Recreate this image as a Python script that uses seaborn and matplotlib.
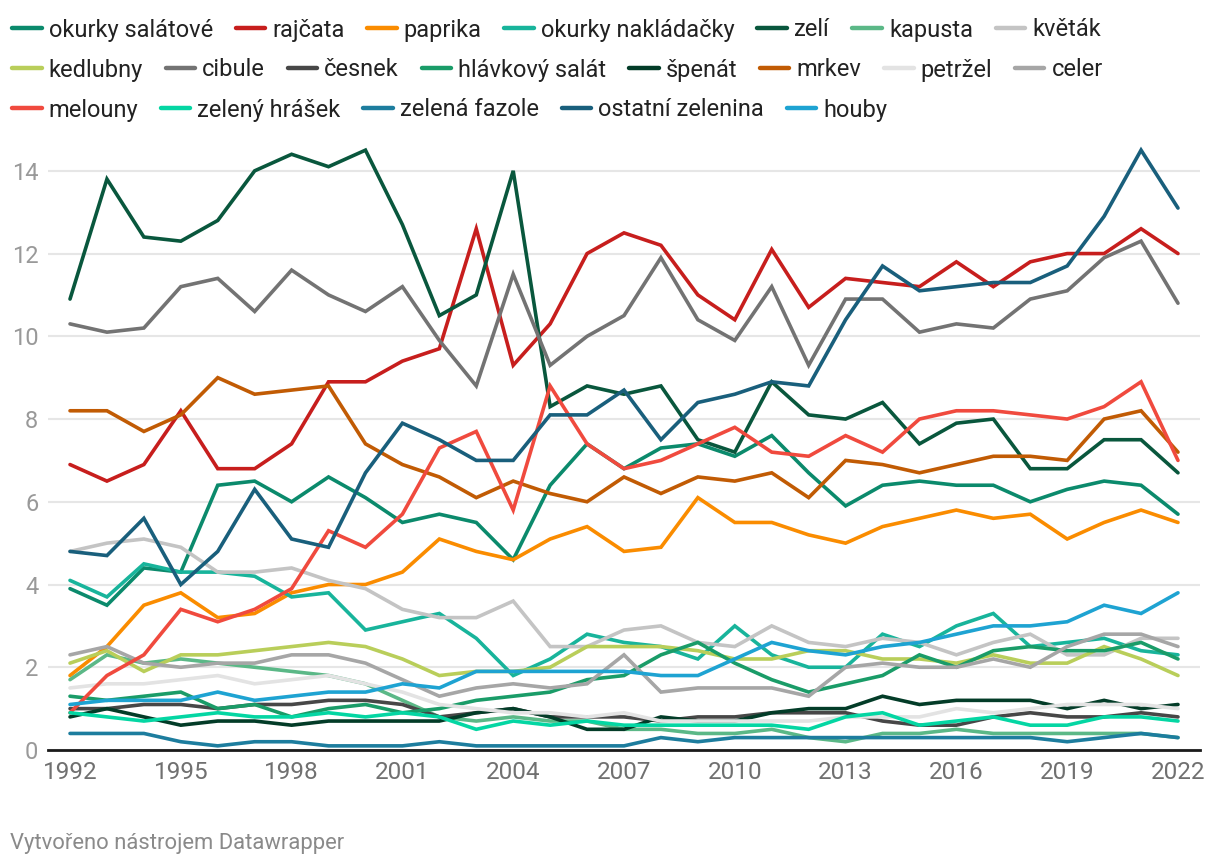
import pandas as pd
import matplotlib.pyplot as plt
from matplotlib.lines import Line2D
import seaborn as sns

# roky 1992-2022
years = list(range(1992, 2023))

okurky_salatove = [3.9, 3.5, 4.4, 4.3, 6.4, 6.5, 6.0, 6.6, 6.1, 5.5, 5.7, 5.5, 4.6, 6.4, 7.4, 6.8,
                   7.3, 7.4, 7.1, 7.6, 6.7, 5.9, 6.4, 6.5, 6.4, 6.4, 6.0, 6.3, 6.5, 6.4, 5.7]
rajcata = [6.9, 6.5, 6.9, 8.2, 6.8, 6.8, 7.4, 8.9, 8.9, 9.4, 9.7, 12.6, 9.3, 10.3, 12.0, 12.5,
           12.2, 11.0, 10.4, 12.1, 10.7, 11.4, 11.3, 11.2, 11.8, 11.2, 11.8, 12.0, 12.0, 12.6, 12.0]
paprika = [1.8, 2.5, 3.5, 3.8, 3.2, 3.3, 3.8, 4.0, 4.0, 4.3, 5.1, 4.8, 4.6, 5.1, 5.4, 4.8,
           4.9, 6.1, 5.5, 5.5, 5.2, 5.0, 5.4, 5.6, 5.8, 5.6, 5.7, 5.1, 5.5, 5.8, 5.5]
okurky_nakladacky = [4.1, 3.7, 4.5, 4.3, 4.3, 4.2, 3.7, 3.8, 2.9, 3.1, 3.3, 2.7, 1.8, 2.2, 2.8, 2.6,
                     2.5, 2.2, 3.0, 2.3, 2.0, 2.0, 2.8, 2.5, 3.0, 3.3, 2.5, 2.6, 2.7, 2.4, 2.3]
zeli = [10.9, 13.8, 12.4, 12.3, 12.8, 14.0, 14.4, 14.1, 14.5, 12.7, 10.5, 11.0, 14.0, 8.3, 8.8, 8.6,
        8.8, 7.5, 7.2, 8.9, 8.1, 8.0, 8.4, 7.4, 7.9, 8.0, 6.8, 6.8, 7.5, 7.5, 6.7]
kapusta = [1.7, 2.3, 2.1, 2.2, 2.1, 2.0, 1.9, 1.8, 1.6, 1.2, 0.8, 0.7, 0.8, 0.7, 0.7, 0.5,
           0.5, 0.4, 0.4, 0.5, 0.3, 0.2, 0.4, 0.4, 0.5, 0.4, 0.4, 0.4, 0.4, 0.4, 0.3]
kvetak = [4.8, 5.0, 5.1, 4.9, 4.3, 4.3, 4.4, 4.1, 3.9, 3.4, 3.2, 3.2, 3.6, 2.5, 2.5, 2.9,
          3.0, 2.6, 2.5, 3.0, 2.6, 2.5, 2.7, 2.6, 2.3, 2.6, 2.8, 2.3, 2.3, 2.7, 2.7]
kedlubny = [2.1, 2.4, 1.9, 2.3, 2.3, 2.4, 2.5, 2.6, 2.5, 2.2, 1.8, 1.9, 1.9, 2.0, 2.5, 2.5,
            2.5, 2.4, 2.2, 2.2, 2.4, 2.4, 2.2, 2.2, 2.1, 2.3, 2.1, 2.1, 2.5, 2.2, 1.8]
cibule = [10.3, 10.1, 10.2, 11.2, 11.4, 10.6, 11.6, 11.0, 10.6, 11.2, 9.9, 8.8, 11.5, 9.3, 10.0, 10.5,
          11.9, 10.4, 9.9, 11.2, 9.3, 10.9, 10.9, 10.1, 10.3, 10.2, 10.9, 11.1, 11.9, 12.3, 10.8]
cesnek = [1.0, 1.0, 1.1, 1.1, 1.0, 1.1, 1.1, 1.2, 1.2, 1.1, 0.8, 0.9, 1.0, 0.8, 0.8, 0.8,
          0.7, 0.8, 0.8, 0.9, 0.9, 0.9, 0.7, 0.6, 0.6, 0.8, 0.9, 0.8, 0.8, 0.9, 0.8]
hlavkovy_salat = [1.3, 1.2, 1.3, 1.4, 1.0, 1.1, 0.8, 1.0, 1.1, 0.9, 1.0, 1.2, 1.3, 1.4, 1.7, 1.8,
                  2.3, 2.6, 2.1, 1.7, 1.4, 1.6, 1.8, 2.3, 2.0, 2.4, 2.5, 2.4, 2.4, 2.6, 2.2]
spenat = [0.8, 1.0, 0.8, 0.6, 0.7, 0.7, 0.6, 0.7, 0.7, 0.7, 0.7, 0.9, 1.0, 0.8, 0.5, 0.5,
          0.8, 0.7, 0.7, 0.9, 1.0, 1.0, 1.3, 1.1, 1.2, 1.2, 1.2, 1.0, 1.2, 1.0, 1.1]
mrkev = [8.2, 8.2, 7.7, 8.1, 9.0, 8.6, 8.7, 8.8, 7.4, 6.9, 6.6, 6.1, 6.5, 6.2, 6.0, 6.6,
         6.2, 6.6, 6.5, 6.7, 6.1, 7.0, 6.9, 6.7, 6.9, 7.1, 7.1, 7.0, 8.0, 8.2, 7.2]
petrzel = [1.5, 1.6, 1.6, 1.7, 1.8, 1.6, 1.7, 1.8, 1.6, 1.4, 1.1, 1.0, 0.9, 0.9, 0.8, 0.9,
           0.7, 0.7, 0.7, 0.7, 0.7, 0.8, 0.8, 0.8, 1.0, 0.9, 1.0, 1.1, 1.1, 1.1, 1.0]
celer = [2.3, 2.5, 2.1, 2.0, 2.1, 2.1, 2.3, 2.3, 2.1, 1.7, 1.3, 1.5, 1.6, 1.5, 1.6, 2.3,
         1.4, 1.5, 1.5, 1.5, 1.3, 2.0, 2.1, 2.0, 2.0, 2.2, 2.0, 2.5, 2.8, 2.8, 2.5]
melouny = [0.9, 1.8, 2.3, 3.4, 3.1, 3.4, 3.9, 5.3, 4.9, 5.7, 7.3, 7.7, 5.8, 8.8, 7.4, 6.8,
           7.0, 7.4, 7.8, 7.2, 7.1, 7.6, 7.2, 8.0, 8.2, 8.2, 8.1, 8.0, 8.3, 8.9, 7.0]
zeleny_hrasek = [0.9, 0.8, 0.7, 0.8, 0.9, 0.8, 0.8, 0.9, 0.8, 0.9, 0.8, 0.5, 0.7, 0.6, 0.7, 0.6,
                 0.6, 0.6, 0.6, 0.6, 0.5, 0.8, 0.9, 0.6, 0.7, 0.8, 0.6, 0.6, 0.8, 0.8, 0.7]
zelena_fazole = [0.4, 0.4, 0.4, 0.2, 0.1, 0.2, 0.2, 0.1, 0.1, 0.1, 0.2, 0.1, 0.1, 0.1, 0.1, 0.1,
                 0.3, 0.2, 0.3, 0.3, 0.3, 0.3, 0.3, 0.3, 0.3, 0.3, 0.3, 0.2, 0.3, 0.4, 0.3]
ostatni_zelenina = [4.8, 4.7, 5.6, 4.0, 4.8, 6.3, 5.1, 4.9, 6.7, 7.9, 7.5, 7.0, 7.0, 8.1, 8.1, 8.7,
                    7.5, 8.4, 8.6, 8.9, 8.8, 10.4, 11.7, 11.1, 11.2, 11.3, 11.3, 11.7, 12.9, 14.5, 13.1]
houby = [1.1, 1.2, 1.2, 1.2, 1.4, 1.2, 1.3, 1.4, 1.4, 1.6, 1.5, 1.9, 1.9, 1.9, 1.9, 1.9,
         1.8, 1.8, 2.2, 2.6, 2.4, 2.3, 2.5, 2.6, 2.8, 3.0, 3.0, 3.1, 3.5, 3.3, 3.8]

series = {
    "okurky salátové": okurky_salatove,
    "rajčata": rajcata,
    "paprika": paprika,
    "okurky nakládačky": okurky_nakladacky,
    "zelí": zeli,
    "kapusta": kapusta,
    "květák": kvetak,
    "kedlubny": kedlubny,
    "cibule": cibule,
    "česnek": cesnek,
    "hlávkový salát": hlavkovy_salat,
    "špenát": spenat,
    "mrkev": mrkev,
    "petržel": petrzel,
    "celer": celer,
    "melouny": melouny,
    "zelený hrášek": zeleny_hrasek,
    "zelená fazole": zelena_fazole,
    "ostatní zelenina": ostatni_zelenina,
    "houby": houby,
}

colors = {
    "okurky salátové": "#0b8a6c",
    "rajčata": "#c71e1d",
    "paprika": "#fa8c00",
    "okurky nakládačky": "#18b49b",
    "zelí": "#09573d",
    "kapusta": "#5bb887",
    "květák": "#c4c4c4",
    "kedlubny": "#b9ce5a",
    "cibule": "#737373",
    "česnek": "#474747",
    "hlávkový salát": "#1a9c68",
    "špenát": "#033c28",
    "mrkev": "#c15b04",
    "petržel": "#e3e3e3",
    "celer": "#a6a6a6",
    "melouny": "#f04a3e",
    "zelený hrášek": "#04d6a3",
    "zelená fazole": "#1d7d9e",
    "ostatní zelenina": "#195f7c",
    "houby": "#1ea3d2",
}

legend_rows = [
    ["okurky salátové", "rajčata", "paprika", "okurky nakládačky", "zelí", "kapusta", "květák"],
    ["kedlubny", "cibule", "česnek", "hlávkový salát", "špenát", "mrkev", "petržel", "celer"],
    ["melouny", "zelený hrášek", "zelená fazole", "ostatní zelenina", "houby"],
]

y_ticks = [0, 2, 4, 6, 8, 10, 12, 14]
x_ticks = [1992, 1995, 1998, 2001, 2004, 2007, 2010, 2013, 2016, 2019, 2022]

# long format pro seaborn
rows = []
for name, vals in series.items():
    for yr, v in zip(years, vals):
        rows.append({"rok": yr, "druh": name, "hodnota": v})
df = pd.DataFrame(rows)

sns.set_theme(style="white")
plt.rcParams["font.family"] = ["Roboto", "DejaVu Sans"]

fig = plt.figure(figsize=(12.2, 8.66), dpi=100)
ax = fig.add_axes([48 / 1220, 116 / 866, 1152 / 1220, 604 / 866])

sns.lineplot(data=df, x="rok", y="hodnota", hue="druh", palette=colors,
             hue_order=list(series.keys()), linewidth=2.6, legend=False, ax=ax,
             solid_joinstyle="miter")

ax.set_xlim(1991.404, 2022.596)
ax.set_ylim(0, 14.6)
ax.set_yticks(y_ticks)
ax.set_xticks(x_ticks)
ax.set_xlabel("")
ax.set_ylabel("")
ax.grid(axis="y", color="#e6e6e6", linewidth=1.5)
ax.set_axisbelow(True)
for s in ["top", "right", "left"]:
    ax.spines[s].set_visible(False)
ax.spines["bottom"].set_color("#1a1a1a")
ax.spines["bottom"].set_linewidth(2)
ax.tick_params(axis="y", length=0, pad=7, labelsize=17, labelcolor="#999999")
ax.tick_params(axis="x", length=0, pad=8, labelsize=17.5, labelcolor="#707070")

# legenda po radcich
row_y = [1 - 30 / 866, 1 - 70 / 866, 1 - 110 / 866]
for names, yy in zip(legend_rows, row_y):
    handles = [Line2D([0], [0], color=colors[n], linewidth=3.2, solid_capstyle="round") for n in names]
    fig.legend(handles, names, loc="center left", bbox_to_anchor=(12 / 1220, yy),
               ncol=len(names), frameon=False, fontsize=17, handlelength=1.25,
               handletextpad=0.3, columnspacing=0.96, borderaxespad=0, borderpad=0,
               labelcolor="#222222")

fig.text(10 / 1220, 1 - 843 / 866, "Vytvořeno nástrojem Datawrapper", fontsize=15.8,
         color="#8a8a8a", va="center", ha="left")

fig.savefig("out.png", dpi=100, facecolor="white")
